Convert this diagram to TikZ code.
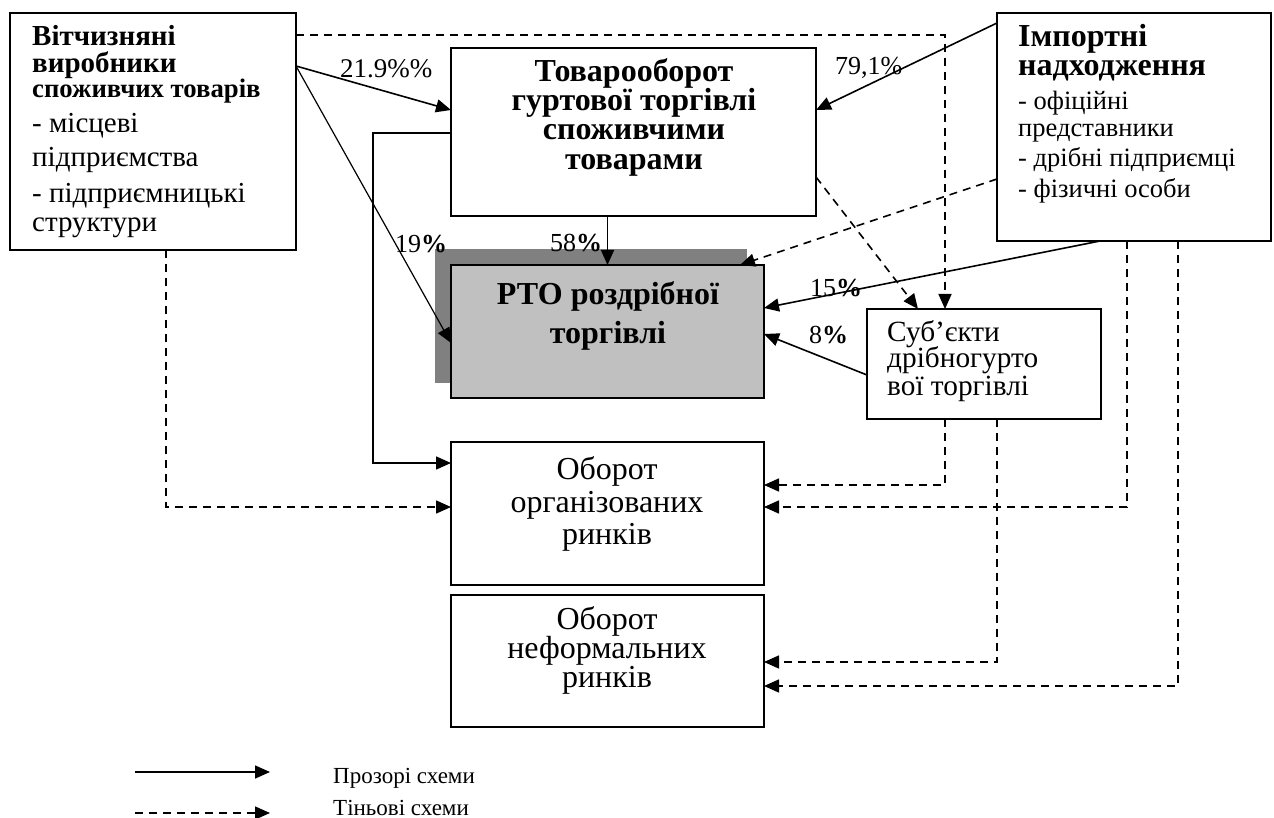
\documentclass[tikz,border=0pt]{standalone}
\usepackage{fontspec}
\setmainfont{Liberation Serif}
\usetikzlibrary{arrows.meta,calc}
\newcommand{\myfs}[1]{\fontsize{#1}{#1}\selectfont}
\begin{document}
\begin{tikzpicture}[x=1pt,y=-1pt,
  box/.style={draw, line width=1.8pt, fill=white, inner sep=0pt, outer sep=0pt, anchor=north west},
  txt/.style={inner sep=0pt, anchor=base west},
  ctxt/.style={inner sep=0pt, anchor=base},
  arr/.style={-{Triangle[length=15pt,width=13pt]}, line width=1.6pt},
  thinarr/.style={arr, line width=1.2pt},
  dsh/.style={arr, dash pattern=on 8pt off 6pt}]
\useasboundingbox (0,0) rectangle (1274,818);
% boxes
\node[box, minimum width=286pt, minimum height=237pt] (A) at (10,13) {};
\node[box, minimum width=365pt, minimum height=168pt] (B) at (451,48) {};
\node[box, minimum width=274pt, minimum height=228pt] (C) at (997,13) {};
\node[box, draw=none, fill={rgb,255:red,128;green,128;blue,128}, minimum width=312pt, minimum height=134pt] (Dsh) at (435,249) {};
\node[box, fill={rgb,255:red,192;green,192;blue,192}, minimum width=313pt, minimum height=133pt] (D) at (451,265) {};
\node[box, minimum width=234pt, minimum height=110pt] (E) at (867,309) {};
\node[box, minimum width=313pt, minimum height=143pt] (F) at (451,442) {};
\node[box, minimum width=313pt, minimum height=132pt] (G) at (451,595) {};
% texts A
\node[txt, font=\myfs{29}\bfseries] (a1) at (32,46) {Вітчизняні};
\node[txt, font=\myfs{29}\bfseries] (a2) at (32,73) {виробники};
\node[txt, font=\myfs{26.7}\bfseries] (a3) at (32,98) {споживчих товарів};
\node[txt, font=\myfs{29}] (a4) at (32,133) {- місцеві};
\node[txt, font=\myfs{29}] (a5) at (32,167) {підприємства};
\node[txt, font=\myfs{29}] (a6) at (32,203) {- підприємницькі};
\node[txt, font=\myfs{29}] (a7) at (32,232) {структури};
% texts B
\node[ctxt, font=\myfs{32}\bfseries] (b1) at (634,82) {Товарооборот};
\node[ctxt, font=\myfs{32}\bfseries] (b2) at (634,111) {гуртової торгівлі};
\node[ctxt, font=\myfs{32}\bfseries] (b3) at (634,140) {споживчими};
\node[ctxt, font=\myfs{32}\bfseries] (b4) at (634,170) {товарами};
% texts C
\node[txt, font=\myfs{32}\bfseries] (c1) at (1018,47) {Імпортні};
\node[txt, font=\myfs{32}\bfseries] (c2) at (1018,76) {надходження};
\node[txt, font=\myfs{26.5}] (c3) at (1018,110) {- офіційні};
\node[txt, font=\myfs{26.5}] (c4) at (1018,137) {представники};
\node[txt, font=\myfs{26.5}] (c5) at (1018,167) {- дрібні підприємці};
\node[txt, font=\myfs{26.5}] (c6) at (1018,198) {- фізичні особи};
% texts D
\node[ctxt, font=\myfs{32}\bfseries] (d1) at (608,305) {РТО роздрібної};
\node[ctxt, font=\myfs{32}\bfseries] (d2) at (608,343) {торгівлі};
% texts E
\node[txt, font=\myfs{29.3}] (e1) at (887,341) {Суб’єкти};
\node[txt, font=\myfs{29.3}] (e2) at (887,367) {дрібногурто};
\node[txt, font=\myfs{29.3}] (e3) at (887,395) {вої торгівлі};
% texts F, G
\node[ctxt, font=\myfs{32}] (f1) at (607,479) {Оборот};
\node[ctxt, font=\myfs{32}] (f2) at (607,512) {організованих};
\node[ctxt, font=\myfs{32}] (f3) at (607,544) {ринків};
\node[ctxt, font=\myfs{32}] (g1) at (607,629) {Оборот};
\node[ctxt, font=\myfs{32}] (g2) at (607,658) {неформальних};
\node[ctxt, font=\myfs{32}] (g3) at (607,687) {ринків};
% solid connectors
\draw[arr] ($(A.north east)+(0,53)$) -- ($(B.north west)+(0,62)$);
\draw[thinarr] ($(A.north east)+(0,53)$) -- ($(D.north west)+(0,78)$);
\draw[arr] ($(B.north west)+(0,85)$) -- ++(-78,0) |- ($(F.north west)+(0,21)$);
\draw[arr] (B.south -| D.north) -- (D.north);
\draw[arr] ($(C.north west)+(0,10)$) -- ($(B.north east)+(0,62)$);
\draw[arr] ($(C.south west)+(103,0)$) -- ($(D.north east)+(0,43)$);
\draw[arr] ($(E.north west)+(0,66)$) -- ($(D.north east)+(0,69)$);
% dashed connectors
\draw[dsh] ($(A.north east)+(0,22)$) -| ($(E.north west)+(78,0)$);
\draw[dsh] ($(B.north east)+(0,129)$) -- ($(E.north west)+(51,0)$);
\draw[dsh] ($(C.north west)+(0,166)$) -- ($(D.north east)+(-24,0)$);
\draw[dsh] ($(A.south west)+(156,0)$) |- ($(F.north west)+(0,65)$);
\draw[dsh] ($(E.south west)+(78,0)$) |- ($(F.north east)+(0,43)$);
\draw[dsh] ($(C.south west)+(130,0)$) |- ($(F.north east)+(0,65)$);
\draw[dsh] ($(E.south west)+(130,0)$) |- ($(G.north east)+(0,67)$);
\draw[dsh] ($(C.south west)+(181,0)$) |- ($(G.north east)+(0,91)$);
% labels
\node[txt, font=\myfs{27}] (l1) at (340,78) {21.9\%\%};
\node[txt, font=\myfs{26}] (l2) at (835,75) {79,1\%};
\node[txt, font=\myfs{26}] (l3) at (395,253) {19\textbf{\%}};
\node[txt, font=\myfs{26}] (l4) at (550,252) {58\textbf{\%}};
\node[txt, font=\myfs{26}] (l5) at (810,297) {15\textbf{\%}};
\node[txt, font=\myfs{26}] (l6) at (809,343) {8\textbf{\%}};
% legend
\coordinate (s1) at (135,772);
\coordinate (s2) at (270,772);
\coordinate (t1) at (135,813);
\coordinate (t2) at (270,813);
\draw[arr] (s1) -- (s2);
\draw[dsh] (t1) -- (t2);
\node[txt, font=\myfs{23}] (lg1) at (333,783) {Прозорі схеми};
\node[txt, font=\myfs{23}] (lg2) at (333,815) {Тіньові схеми};
\end{tikzpicture}
\end{document}
